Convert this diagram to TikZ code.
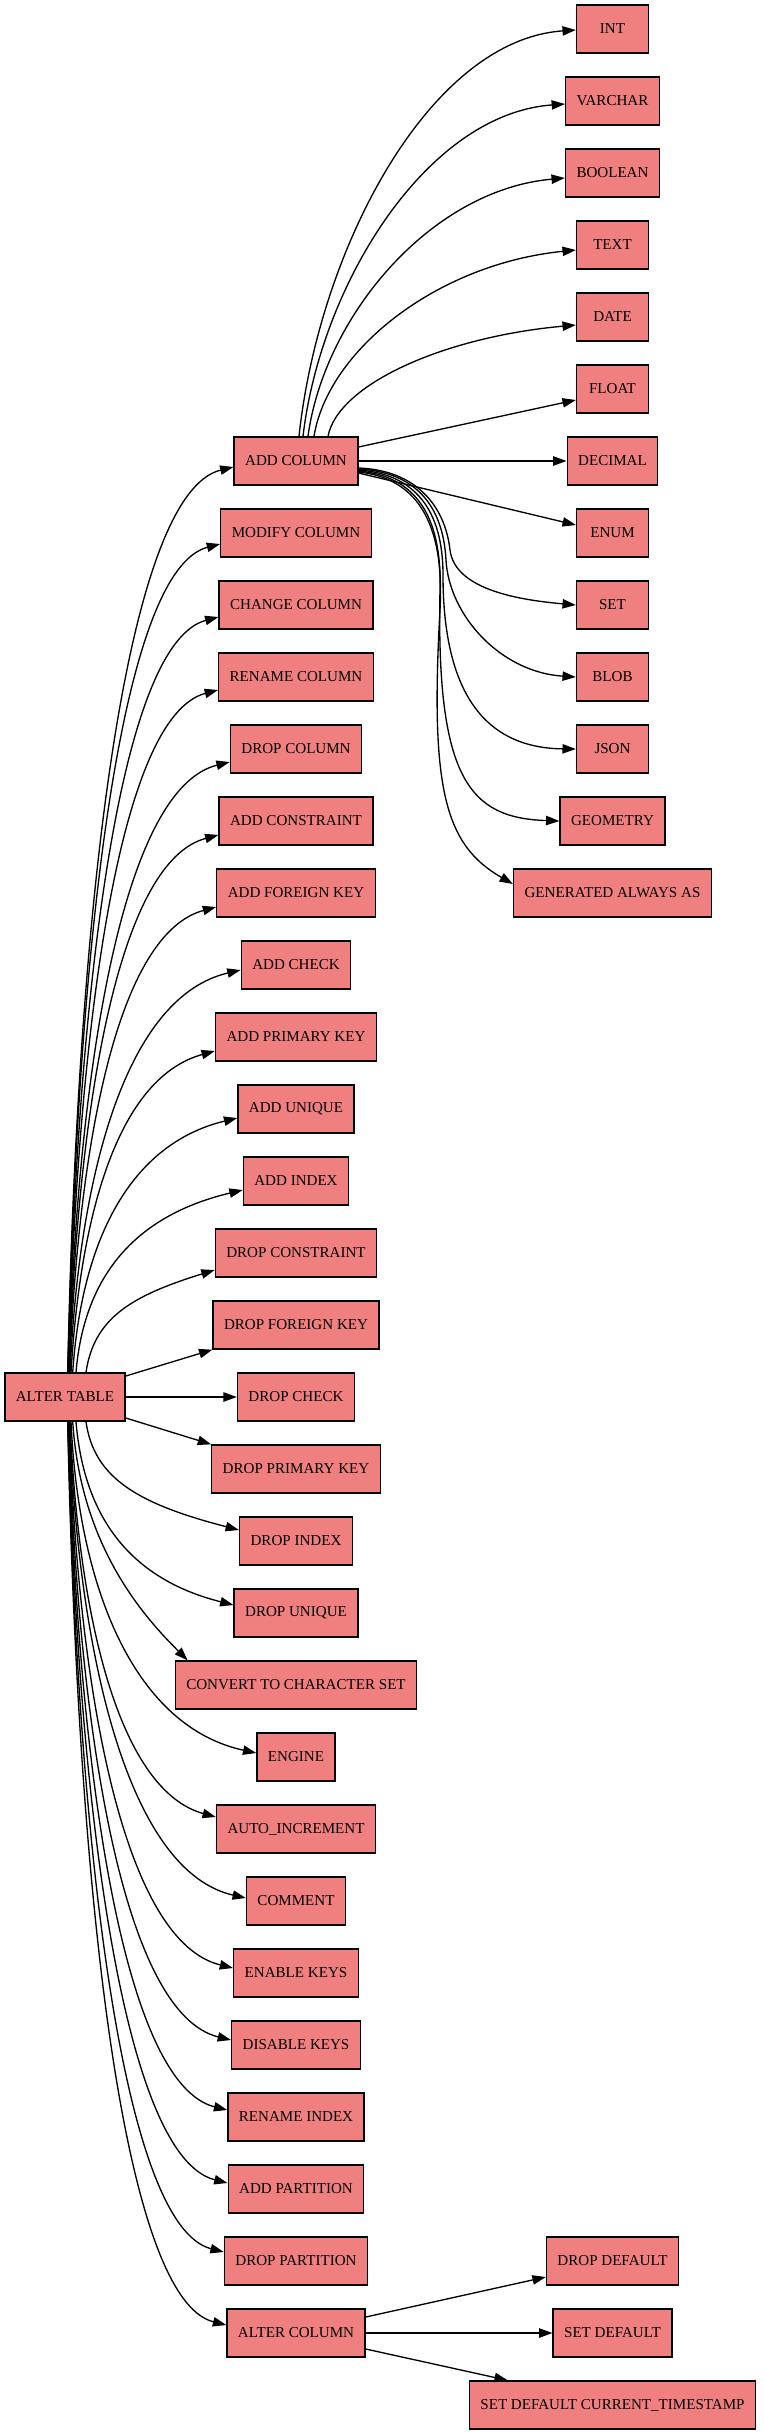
\documentclass[tikz,border=0pt]{standalone}
\usepackage{fontspec}
\setmainfont{Liberation Serif}
\usetikzlibrary{arrows.meta,calc}
\definecolor{boxfill}{HTML}{F08080}
\tikzset{
  box/.style={draw=black, fill=boxfill, rectangle, line width=1pt,
    minimum width=54pt, minimum height=36pt, inner xsep=8.25pt, inner ysep=0pt,
    font=\fontsize{11.3}{13}\selectfont},
  arr/.style={line width=1pt, -{Triangle[length=10pt,width=7pt]}}
}
\begin{document}
\begin{tikzpicture}[x=0.75pt,y=-0.75pt]
\useasboundingbox (0,0) rectangle (764,2435);
% root
\node[box] (AT) at (65,1397) {ALTER TABLE};
% level 1
\node[box] (addcol)   at (296,461)  {ADD COLUMN};
\node[box] (modcol)   at (296,533)  {MODIFY COLUMN};
\node[box] (chgcol)   at (296,605)  {CHANGE COLUMN};
\node[box] (rencol)   at (296,677)  {RENAME COLUMN};
\node[box] (dropcol)  at (296,749)  {DROP COLUMN};
\node[box] (addcons)  at (296,821)  {ADD CONSTRAINT};
\node[box] (addfk)    at (296,893)  {ADD FOREIGN KEY};
\node[box] (addchk)   at (296,965)  {ADD CHECK};
\node[box] (addpk)    at (296,1037) {ADD PRIMARY KEY};
\node[box] (adduniq)  at (296,1109) {ADD UNIQUE};
\node[box] (addidx)   at (296,1181) {ADD INDEX};
\node[box] (dropcons) at (296,1253) {DROP CONSTRAINT};
\node[box] (dropfk)   at (296,1325) {DROP FOREIGN KEY};
\node[box] (dropchk)  at (296,1397) {DROP CHECK};
\node[box] (droppk)   at (296,1469) {DROP PRIMARY KEY};
\node[box] (dropidx)  at (296,1541) {DROP INDEX};
\node[box] (dropuniq) at (296,1613) {DROP UNIQUE};
\node[box] (convert)  at (296,1685) {CONVERT TO CHARACTER SET};
\node[box] (engine)   at (296,1757) {ENGINE};
\node[box] (autoinc)  at (296,1829) {AUTO\_INCREMENT};
\node[box] (comment)  at (296,1901) {COMMENT};
\node[box] (enkeys)   at (296,1973) {ENABLE KEYS};
\node[box] (diskeys)  at (296,2045) {DISABLE KEYS};
\node[box] (renidx)   at (296,2117) {RENAME INDEX};
\node[box] (addpart)  at (296,2189) {ADD PARTITION};
\node[box] (droppart) at (296,2261) {DROP PARTITION};
\node[box] (altcol)   at (296,2333) {ALTER COLUMN};
% level 2
\node[box] (int)       at (612.5,29)  {INT};
\node[box] (varchar)   at (612.5,101) {VARCHAR};
\node[box] (boolean)   at (612.5,173) {BOOLEAN};
\node[box] (text)      at (612.5,245) {TEXT};
\node[box] (date)      at (612.5,317) {DATE};
\node[box] (float)     at (612.5,389) {FLOAT};
\node[box] (decimal)   at (612.5,461) {DECIMAL};
\node[box] (enum)      at (612.5,533) {ENUM};
\node[box] (set)       at (612.5,605) {SET};
\node[box] (blob)      at (612.5,677) {BLOB};
\node[box] (json)      at (612.5,749) {JSON};
\node[box] (geometry)  at (612.5,821) {GEOMETRY};
\node[box] (generated) at (612.5,893) {GENERATED ALWAYS AS};
\node[box] (dropdef)   at (612.5,2261) {DROP DEFAULT};
\node[box] (setdef)    at (612.5,2333) {SET DEFAULT};
\node[box] (sdct)      at (612.5,2405) {SET DEFAULT CURRENT\_TIMESTAMP};

% ALTER TABLE -> upper level-1 nodes
\draw[arr] ($(AT.north)+(2.7,0)$) .. controls +(10,-472) and +(-108,26) .. ($(addcol.west)+(0,6)$);
\draw[arr] ($(AT.north)+(2.8,0)$) .. controls +(10,-431) and +(-100,26) .. ($(modcol.west)+(0,11)$);
\draw[arr] ($(AT.north)+(3,0)$) .. controls +(10,-393) and +(-98,26) .. ($(chgcol.west)+(0,12)$);
\draw[arr] ($(AT.north)+(3.2,0)$) .. controls +(10,-355) and +(-98,26) .. ($(rencol.west)+(0,13)$);
\draw[arr] ($(AT.north)+(3.5,0)$) .. controls +(10,-318) and +(-105,26) .. ($(dropcol.west)+(0,13)$);
\draw[arr] ($(AT.north)+(3.9,0)$) .. controls +(10,-280) and +(-98,26) .. ($(addcons.west)+(0,14)$);
\draw[arr] ($(AT.north)+(4.3,0)$) .. controls +(10,-242) and +(-96,26) .. ($(addfk.west)+(0,14)$);
\draw[arr] ($(AT.north)+(5,0)$) .. controls +(10,-210) and +(-111,26) .. ($(addchk.west)+(0,5)$);
\draw[arr] ($(AT.north)+(6,0)$) .. controls +(10,-167) and +(-94,26) .. ($(addpk.west)+(0,14)$);
\draw[arr] ($(AT.north)+(7.7,0)$) .. controls +(9,-133) and +(-107,26) .. ($(adduniq.west)+(0,9)$);
\draw[arr] ($(AT.north)+(11,0)$) .. controls +(8,-95) and +(-109,26) .. ($(addidx.west)+(0,9)$);
\draw[arr] ($(AT.north)+(21,0)$) .. controls +(8,-54) and +(-84,26) .. ($(dropcons.west)+(0,17)$);
% straight ones
\draw[arr] ($(AT.east)+(0,-21)$) -- (dropfk.south west);
\draw[arr] (AT.east) -- (dropchk.west);
\draw[arr] ($(AT.east)+(0,21)$) -- (droppk.north west);
% ALTER TABLE -> lower level-1 nodes
\draw[arr] ($(AT.south)+(21,0)$) .. controls +(8,57) and +(-100,-26) .. ($(dropidx.west)+(0,-11)$);
\draw[arr] ($(AT.south)+(11,0)$) .. controls +(8,96) and +(-103,-26) .. ($(dropuniq.west)+(0,-8)$);
\draw[arr] ($(AT.south)+(7.7,0)$) .. controls +(8,124) and +(-45,-45) .. ($(convert.north west)+(13,0)$);
\draw[arr] ($(AT.south)+(6,0)$) .. controls +(8,173) and +(-119,-26) .. ($(engine.west)+(0,-4)$);
\draw[arr] ($(AT.south)+(5,0)$) .. controls +(9,206) and +(-94,-26) .. ($(autoinc.west)+(0,-12)$);
\draw[arr] ($(AT.south)+(4.3,0)$) .. controls +(10,248) and +(-114,-26) .. ($(comment.west)+(0,-3)$);
\draw[arr] ($(AT.south)+(3.9,0)$) .. controls +(10,284) and +(-107,-26) .. ($(enkeys.west)+(0,-5)$);
\draw[arr] ($(AT.south)+(3.5,0)$) .. controls +(10,322) and +(-106,-26) .. ($(diskeys.west)+(0,-5)$);
\draw[arr] ($(AT.south)+(3.2,0)$) .. controls +(10,358) and +(-103,-26) .. ($(renidx.west)+(0,-7)$);
\draw[arr] ($(AT.south)+(3,0)$) .. controls +(10,396) and +(-103,-26) .. ($(addpart.west)+(0,-6)$);
\draw[arr] ($(AT.south)+(2.8,0)$) .. controls +(10,432) and +(-101,-26) .. ($(droppart.west)+(0,-9)$);
\draw[arr] ($(AT.south)+(2.7,0)$) .. controls +(10,470) and +(-104,-26) .. ($(altcol.west)+(0,-8)$);

% ADD COLUMN -> types (up)
\draw[arr] ($(addcol.north)+(3,0)$) .. controls +(20,-187) and +(-147,10) .. ($(int.west)+(0,1)$);
\draw[arr] ($(addcol.north)+(7,0)$) .. controls +(18,-153) and +(-138,10) .. ($(varchar.west)+(0,3)$);
\draw[arr] ($(addcol.north)+(12,0)$) .. controls +(16,-119) and +(-135,12) .. ($(boolean.west)+(0,5)$);
\draw[arr] ($(addcol.north)+(18,0)$) .. controls +(14,-86) and +(-139,14) .. ($(text.west)+(0,5)$);
\draw[arr] ($(addcol.north)+(32,0)$) .. controls +(10,-52) and +(-132,12) .. ($(date.west)+(0,8)$);
\draw[arr] ($(addcol.east)+(0,-14)$) -- ($(float.west)+(0,11)$);
\draw[arr] (addcol.east) -- (decimal.west);
\draw[arr] ($(addcol.east)+(0,12)$) -- ($(enum.west)+(0,-8)$);
% ADD COLUMN -> types (down, S-shaped)
\draw[arr] ($(addcol.east)+(0,7)$) .. controls (415,470) and (445,505) .. (450,550)
  .. controls (455,590) and (520,600) .. (set.west);
\draw[arr] ($(addcol.east)+(0,8)$) .. controls (415,472) and (443,505) .. (446,560)
  .. controls (449,615) and (500,672) .. (blob.west);
\draw[arr] ($(addcol.east)+(0,9)$) .. controls (415,474) and (443,510) .. (443,575)
  .. controls (443,700) and (490,748) .. (json.west);
\draw[arr] ($(addcol.east)+(0,10)$) .. controls (415,476) and (442,515) .. (440,590)
  .. controls (436,780) and (470,818) .. (geometry.west);
\draw[arr] ($(addcol.east)+(0,11)$) .. controls (415,478) and (445,520) .. (440,610)
  .. controls (430,790) and (445,845) .. ($(generated.west)+(0,-9)$);

% ALTER COLUMN -> defaults
\draw[arr] ($(altcol.east)+(0,-16)$) -- ($(dropdef.west)+(0,16)$);
\draw[arr] (altcol.east) -- (setdef.west);
\draw[arr] ($(altcol.east)+(0,16)$) -- ($(sdct.north west)+(39,0)$);
\end{tikzpicture}
\end{document}
